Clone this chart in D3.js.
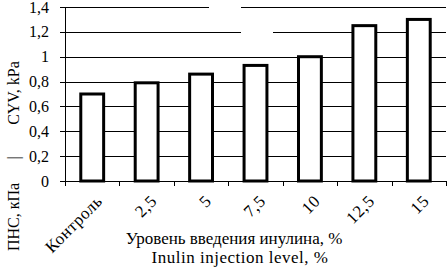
<!DOCTYPE html>
<html>
<head>
<meta charset="utf-8">
<script src="https://cdn.jsdelivr.net/npm/d3@7"></script>
<style>
  body { margin: 0; background: #fff; }
  text { font-family: "Liberation Serif", "Times New Roman", serif; fill: #000; }
</style>
</head>
<body>
<svg class="plot" width="447" height="270"></svg>
<script>
// chart data
var levels = ["Контроль", "2,5", "5", "7,5", "10", "12,5", "15"];
var cyv = [0.70, 0.79, 0.86, 0.93, 1.00, 1.25, 1.30];
var yTicks = [0, 0.2, 0.4, 0.6, 0.8, 1, 1.2, 1.4];

var svg = d3.select(".plot"),
    margin = {top: 7, right: 1, bottom: 89, left: 65},
    width = +svg.attr("width") - margin.left - margin.right,
    height = +svg.attr("height") - margin.top - margin.bottom;

var x = d3.scaleBand().domain(levels).range([0, width]).paddingInner(0.58).paddingOuter(0.29),
    y = d3.scaleLinear().domain([0, 1.4]).range([height, 0]);

var g = svg.append("g")
    .attr("transform", "translate(" + margin.left + "," + margin.top + ")");

var fmt = function(d) { return String(d).replace(".", ","); };

// gridlines + y ticks
g.selectAll(".grid")
    .data(yTicks)
    .enter().append("line")
    .attr("x1", -5)
    .attr("x2", width)
    .attr("y1", function(d) { return Math.round(y(d)) + 0.5; })
    .attr("y2", function(d) { return Math.round(y(d)) + 0.5; })
    .attr("stroke", "#000")
    .attr("stroke-width", 1);

// white gaps in top gridlines (legend area)
g.append("rect")
    .attr("x", 144).attr("y", y(1.4) - 3)
    .attr("width", 32).attr("height", 6)
    .attr("fill", "#fff");
g.append("rect")
    .attr("x", 176).attr("y", y(1.2) - 3)
    .attr("width", 32).attr("height", 6)
    .attr("fill", "#fff");

g.selectAll(".ylab")
    .data(yTicks)
    .enter().append("text")
    .attr("x", -16)
    .attr("y", function(d) { return y(d); })
    .attr("dy", "0.35em")
    .attr("text-anchor", "end")
    .style("font-size", "16px")
    .text(fmt);

// y axis line
g.append("line")
    .attr("x1", 0.5).attr("x2", 0.5)
    .attr("y1", 0).attr("y2", height)
    .attr("stroke", "#000");

// x ticks at band edges
var edges = levels.map(function(d) { return x(d) - x.step() * x.paddingInner() / 2; });
edges.push(width);
g.selectAll(".xtick")
    .data(edges)
    .enter().append("line")
    .attr("x1", function(d) { return Math.round(d) + 0.5; })
    .attr("x2", function(d) { return Math.round(d) + 0.5; })
    .attr("y1", height)
    .attr("y2", height + 5)
    .attr("stroke", "#000");

// bars
g.selectAll(".bar")
    .data(cyv)
    .enter().append("rect")
    .attr("x", function(d, i) { return x(levels[i]); })
    .attr("y", function(d) { return y(d); })
    .attr("width", x.bandwidth())
    .attr("height", function(d) { return height - y(d); })
    .attr("fill", "#fff")
    .attr("stroke", "#000")
    .attr("stroke-width", 3);

// x tick labels
g.selectAll(".xlab")
    .data(levels)
    .enter().append("text")
    .attr("transform", function(d) {
        return "translate(" + (x(d) + x.bandwidth() / 2 + 7) + "," + (height + 17) + ")rotate(-45)";
    })
    .attr("text-anchor", "end")
    .attr("dy", "0.35em")
    .style("font-size", "17px")
    .style("letter-spacing", "0.5px")
    .text(function(d) { return d; });

// axis titles
svg.append("text")
    .attr("x", 234).attr("y", 244)
    .attr("text-anchor", "middle")
    .style("font-size", "17px")
    .text("Уровень введения инулина, %");
svg.append("text")
    .attr("x", 240).attr("y", 263)
    .attr("text-anchor", "middle")
    .style("font-size", "17px")
    .style("letter-spacing", "0.5px")
    .text("Inulin injection level, %");

var yTitle = svg.append("g").attr("transform", "translate(19,155)rotate(-90)");
yTitle.append("text").attr("x", -62).attr("text-anchor", "middle").style("font-size", "16px").text("ПНС, кПа");
yTitle.append("text").attr("x", -3).attr("text-anchor", "middle").style("font-size", "16px").text("|");
yTitle.append("text").attr("x", 62).attr("text-anchor", "middle").style("font-size", "16px").text("CYV, kPa");
</script>
</body>
</html>
